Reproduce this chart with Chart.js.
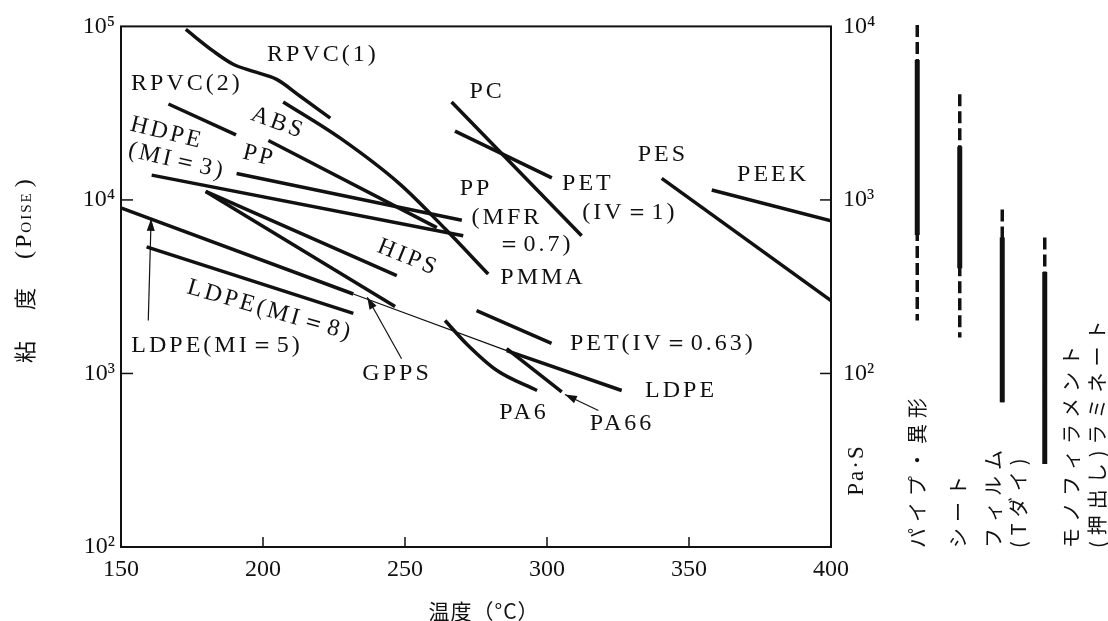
<!DOCTYPE html>
<html>
<head>
<meta charset="utf-8">
<title>粘度と温度</title>
<script src="https://cdn.jsdelivr.net/npm/chart.js@4.4.1/dist/chart.umd.min.js"></script>
<style>
  html, body { margin: 0; padding: 0; background: #fff; }
  #wrap { position: relative; width: 1108px; height: 621px; }
  #main { position: absolute; left: 0; top: 0; }
  #side { position: absolute; left: 880px; top: 0; }
</style>
</head>
<body>
<div id="wrap">
  <canvas id="main" width="1108" height="621"></canvas>
  <canvas id="side" width="228" height="621"></canvas>
</div>
<script>
// [温度 °C, 粘度 poise]
const RPVC1 = [[172.8, 96000], [182.5, 72000], [189.5, 60500], [196.6, 55000], [204.8, 49500], [213.1, 39600], [223.7, 29600]];
const RPVC2 = [[166.7, 35700], [190.5, 23700]];
const ABS = [[201.9, 22000], [261.2, 6930]];
const PMMA = [[207.1, 36700], [227.2, 22700], [248.3, 12300], [264.2, 6800], [279.3, 3740]];
const PP = [[190.7, 14200], [270.0, 7640]];
const HDPE = [[160.8, 13900], [270.5, 6210]];
const HIPS = [[179.8, 11200], [247.1, 3660]];
const GPPS = [[179.8, 11200], [246.5, 2430]];
const LDPE5 = [[150.2, 8960], [231.8, 2870]];
const LDPE_EXT = [[231.8, 2870], [285.8, 1355]];
const LDPE = [[285.8, 1355], [326.3, 798]];
const LDPE8 = [[159.0, 5370], [231.8, 2220]];
const PC = [[266.4, 36700], [312.2, 6210]];
const PET1 = [[267.6, 24900], [301.7, 13400]];
const PET063 = [[275.2, 2300], [301.6, 1490]];
const PA6 = [[264.1, 2020], [271.7, 1480], [282.4, 1040], [296.5, 798]];
const PA66 = [[285.8, 1390], [305.2, 782]];
const PES = [[340.4, 13300], [400, 2630]];
const PEEK = [[358.0, 11400], [400, 7570]];

// 目盛り
const xTicks = [150, 200, 250, 300, 350, 400];
const yTicks = [100, 1000, 10000, 100000];
const y2Ticks = [100, 1000, 10000];
const sup = { 2: '²', 3: '³', 4: '⁴', 5: '⁵' };

// 成形法ごとの適正粘度範囲 (Pa·s)
const processes = [['パイプ・異形'], ['シート'], ['フィルム', '(Tダイ)'], ['モノフィラメント', '(押出し)ラミネート']];
const dashTop = [10000, 4000, 870, 600];
const solidTop = [6300, 2000, 600, 380];
const solidBottom = [620, 400, 68, 30];
const dashBottom = [200, 160, 68, 30];

// 注記: [文字, 温度, log10(poise), 角度]
const notes = [
  ['RPVC(1)', 221.1, 4.839, 0],
  ['RPVC(2)', 173.2, 4.672, 0],
  ['ABS', 205.3, 4.443, 20],
  ['HDPE', 166.2, 4.385, 14],
  ['(MI＝3)', 169.7, 4.224, 13],
  ['PP', 198.6, 4.253, 14],
  ['PC', 278.9, 4.626, 0],
  ['PP', 275.0, 4.063, 0],
  ['(MFR', 285.9, 3.897, 0],
  ['＝0.7)', 295.8, 3.741, 0],
  ['PMMA', 298.6, 3.552, 0],
  ['PET', 314.4, 4.092, 0],
  ['(IV＝1)', 329.2, 3.925, 0],
  ['PES', 340.8, 4.259, 0],
  ['PEEK', 379.6, 4.144, 0],
  ['HIPS', 251.1, 3.667, 22],
  ['LDPE(MI＝8)', 202.5, 3.362, 16],
  ['LDPE(MI＝5)', 183.8, 3.161, 0],
  ['GPPS', 247.2, 3.0, 0],
  ['PET(IV＝0.63)', 340.8, 3.172, 0],
  ['LDPE', 347.2, 2.902, 0],
  ['PA6', 291.9, 2.776, 0],
  ['PA66', 326.4, 2.713, 0]
];
// 矢印: [尾 温度, 尾 log, 先 温度, 先 log]
const arrows = [
  [159.6, 3.305, 160.6, 3.891],
  [248.8, 3.085, 236.7, 3.439],
  [318.1, 2.787, 306.3, 2.879]
];

const INK = '#111';
const SERIF = '"Liberation Serif", "DejaVu Serif", serif';
const JP = '"Noto Sans CJK JP", sans-serif';

function curve(pts, w, smooth) {
  return {
    data: pts.map(([x, y]) => ({ x: x, y: y })),
    borderColor: INK,
    borderWidth: w,
    pointRadius: 0,
    fill: false,
    tension: smooth ? 0.4 : 0,
    cubicInterpolationMode: smooth ? 'monotone' : 'default',
    borderCapStyle: 'butt'
  };
}

function seg(ctx, x1, y1, x2, y2) {
  ctx.beginPath();
  ctx.moveTo(x1, y1);
  ctx.lineTo(x2, y2);
  ctx.stroke();
}

const decor = {
  id: 'decor',
  afterDatasetsDraw(chart) {
    const { ctx, chartArea: a, scales } = chart;
    const sx = scales.x, sy = scales.y, sy2 = scales.y2;
    ctx.save();
    ctx.strokeStyle = INK;
    ctx.fillStyle = INK;

    // 枠
    ctx.lineWidth = 2;
    ctx.strokeRect(a.left, a.top, a.right - a.left, a.bottom - a.top);

    // 内向き目盛り
    ctx.lineWidth = 1.5;
    xTicks.slice(1, -1).forEach(v => {
      const px = sx.getPixelForValue(v);
      seg(ctx, px, a.bottom, px, a.bottom - 10);
    });
    [1000, 10000].forEach(v => {
      const py = sy.getPixelForValue(v);
      seg(ctx, a.left, py, a.left + 12, py);
    });
    [100, 1000].forEach(v => {
      const py = sy2.getPixelForValue(v);
      seg(ctx, a.right, py, a.right - 11, py);
    });

    // 矢印
    ctx.lineWidth = 1.2;
    arrows.forEach(([t1, l1, t2, l2]) => {
      const x1 = sx.getPixelForValue(t1), y1 = sy.getPixelForValue(Math.pow(10, l1));
      const x2 = sx.getPixelForValue(t2), y2 = sy.getPixelForValue(Math.pow(10, l2));
      seg(ctx, x1, y1, x2, y2);
      const ang = Math.atan2(y2 - y1, x2 - x1);
      ctx.beginPath();
      ctx.moveTo(x2, y2);
      ctx.lineTo(x2 - 12 * Math.cos(ang) + 4 * Math.sin(ang), y2 - 12 * Math.sin(ang) - 4 * Math.cos(ang));
      ctx.lineTo(x2 - 12 * Math.cos(ang) - 4 * Math.sin(ang), y2 - 12 * Math.sin(ang) + 4 * Math.cos(ang));
      ctx.closePath();
      ctx.fill();
    });

    // 注記
    ctx.font = '24px ' + SERIF;
    ctx.letterSpacing = '3px';
    ctx.textAlign = 'center';
    ctx.textBaseline = 'middle';
    notes.forEach(([txt, t, l, deg]) => {
      ctx.save();
      ctx.translate(sx.getPixelForValue(t), sy.getPixelForValue(Math.pow(10, l)));
      ctx.rotate(deg * Math.PI / 180);
      ctx.fillText(txt, 0, 0);
      ctx.restore();
    });

    // x 軸タイトル
    ctx.letterSpacing = '1px';
    ctx.font = '21px ' + JP;
    ctx.fillText('温度（°C）', (a.left + a.right) / 2 + 8, 611);

    // 右軸タイトル
    ctx.save();
    ctx.translate(857, 470);
    ctx.rotate(-Math.PI / 2);
    ctx.font = '23px ' + SERIF;
    ctx.letterSpacing = '2px';
    ctx.fillText('Pa·S', 0, 0);
    ctx.restore();

    // 左軸タイトル
    ctx.save();
    ctx.translate(25, 363);
    ctx.rotate(-Math.PI / 2);
    ctx.textAlign = 'left';
    ctx.letterSpacing = '0px';
    ctx.font = '22px ' + JP;
    ctx.fillText('粘', 0, 0);
    ctx.fillText('度', 53, 0);
    ctx.font = '24px ' + SERIF;
    let pos = 104;
    ctx.fillText('(', pos, 0);
    pos += ctx.measureText('(').width + 3;
    ctx.fillText('P', pos, 0);
    pos += ctx.measureText('P').width + 2;
    ctx.font = '15px ' + SERIF;
    ctx.letterSpacing = '2px';
    ctx.fillText('OISE', pos, 2);
    pos += ctx.measureText('OISE').width + 4;
    ctx.letterSpacing = '0px';
    ctx.font = '24px ' + SERIF;
    ctx.fillText(')', pos, 0);
    ctx.restore();

    ctx.restore();
  }
};

const thick = [RPVC2, ABS, PP, HDPE, HIPS, GPPS, LDPE5, LDPE8, PC, PET1, PET063, PA66, LDPE, PES, PEEK].map(p => curve(p, 3.5, false));
const bent = [RPVC1, PMMA, PA6].map(p => curve(p, 3.5, true));

new Chart(document.getElementById('main'), {
  type: 'line',
  data: { datasets: thick.concat(bent, [curve(LDPE_EXT, 1.2, false)]) },
  options: {
    responsive: false,
    animation: false,
    devicePixelRatio: 1,
    layout: { padding: { top: 25, left: 0, right: 0, bottom: 0 } },
    plugins: { legend: { display: false }, tooltip: { enabled: false } },
    scales: {
      x: {
        type: 'linear', min: 150, max: 400, position: 'bottom',
        afterBuildTicks: s => { s.ticks = xTicks.map(v => ({ value: v })); },
        afterFit: s => { s.height = 74; },
        grid: { display: false, drawTicks: false },
        border: { display: false },
        ticks: { color: INK, padding: 8, maxRotation: 0, font: { family: SERIF, size: 24 } }
      },
      y: {
        type: 'logarithmic', min: 100, max: 100000, position: 'left',
        afterBuildTicks: s => { s.ticks = yTicks.map(v => ({ value: v })); },
        afterFit: s => { s.width = 121; },
        grid: { display: false, drawTicks: false },
        border: { display: false },
        ticks: { color: INK, padding: 6, font: { family: SERIF, size: 24 },
                 callback: v => '10' + sup[Math.round(Math.log10(v))] }
      },
      y2: {
        type: 'logarithmic', min: 10, max: 10000, position: 'right',
        afterBuildTicks: s => { s.ticks = y2Ticks.map(v => ({ value: v })); },
        afterFit: s => { s.width = 277; },
        grid: { display: false, drawTicks: false },
        border: { display: false },
        ticks: { color: INK, padding: 12, font: { family: SERIF, size: 24 },
                 callback: v => '10' + sup[Math.round(Math.log10(v))] }
      }
    }
  },
  plugins: [decor]
});

// 右側: 成形法の粘度範囲
const procNames = processes.map(p => p.join(''));
const labelShift = [0, -1, -9, 27];
const lineGap = 25.5;

function column(top, bottom) {
  const pts = [];
  procNames.forEach((n, i) => {
    pts.push({ x: n, y: top[i] }, { x: n, y: bottom[i] }, { x: n, y: null });
  });
  return pts;
}

const sideLabels = {
  id: 'sideLabels',
  afterDraw(chart) {
    const { ctx, scales } = chart;
    ctx.save();
    ctx.fillStyle = INK;
    ctx.font = '20px ' + JP;
    ctx.letterSpacing = '6px';
    ctx.textAlign = 'left';
    ctx.textBaseline = 'middle';
    processes.forEach((lines, i) => {
      const cx = scales.x.getPixelForValue(i) + labelShift[i];
      lines.forEach((txt, j) => {
        ctx.save();
        ctx.translate(cx + j * lineGap, 548);
        ctx.rotate(-Math.PI / 2);
        ctx.fillText(txt, 0, 0);
        ctx.restore();
      });
    });
    ctx.restore();
  }
};

new Chart(document.getElementById('side'), {
  type: 'line',
  data: {
    labels: procNames,
    datasets: [
      { data: column(dashTop, dashBottom), borderColor: INK, borderWidth: 3.5, borderDash: [12, 5],
        borderCapStyle: 'butt', pointRadius: 0, spanGaps: false },
      { data: column(solidTop, solidBottom), borderColor: INK, borderWidth: 5,
        borderCapStyle: 'butt', pointRadius: 0, spanGaps: false }
    ]
  },
  options: {
    responsive: false,
    animation: false,
    devicePixelRatio: 1,
    layout: { padding: { top: 25, bottom: 74, left: 16, right: 42 } },
    plugins: { legend: { display: false }, tooltip: { enabled: false } },
    scales: {
      x: { type: 'category', offset: true, display: false },
      y: { type: 'logarithmic', min: 10, max: 10000, display: false }
    }
  },
  plugins: [sideLabels]
});
</script>
</body>
</html>
